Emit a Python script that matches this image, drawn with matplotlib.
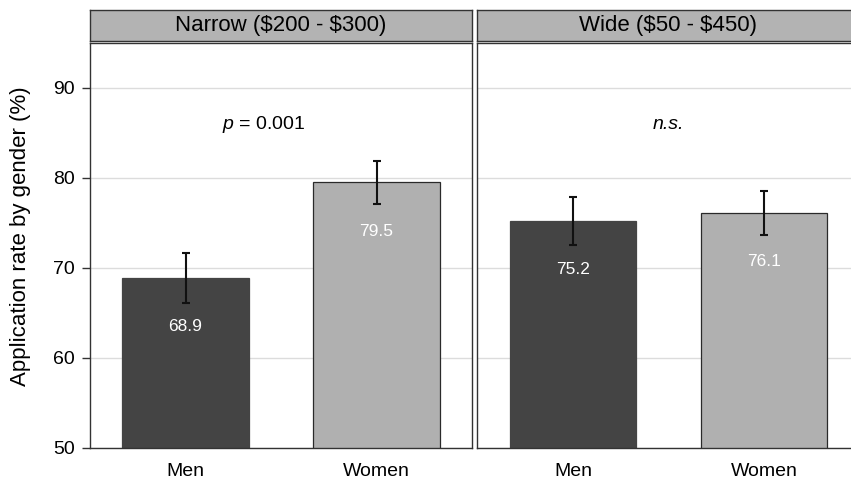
import matplotlib
matplotlib.use("Agg")
import matplotlib.pyplot as plt

plt.rcParams['font.family'] = ['Liberation Sans', 'DejaVu Sans']
plt.rcParams['mathtext.fontset'] = 'custom'
plt.rcParams['mathtext.rm'] = 'Liberation Sans'
plt.rcParams['mathtext.it'] = 'Liberation Sans:italic'

# Data
panels = ["Narrow (\\$200 - \\$300)", "Wide (\\$50 - \\$450)"]
genders = ["Men", "Women"]
rates = [[68.9, 79.5], [75.2, 76.1]]
errors = [[2.8, 2.4], [2.7, 2.45]]
annotations = ["$p$ = 0.001", "n.s."]
note_styles = ["normal", "italic"]
note_x = [1.41, 1.5]
yticks = [50, 60, 70, 80, 90]

bar_colors = ["#444444", "#b0b0b0"]
edge_colors = ["#444444", "#2a2a2a"]

W, H = 851, 483
fig = plt.figure(figsize=(W / 100, H / 100), dpi=100)

ax_w = 382 / W
ax_bottom = (H - 448) / H
ax_top = (H - 42.5) / H
lefts = [90 / W, 477.5 / W]

for i, (label, vals, errs, note) in enumerate(zip(panels, rates, errors, annotations)):
    ax = fig.add_axes([lefts[i], ax_bottom, ax_w, ax_top - ax_bottom])
    x = [1, 2]
    ax.bar(x, vals, width=0.66, bottom=0, color=bar_colors,
           edgecolor=edge_colors, linewidth=0.9, zorder=2)
    ax.errorbar(x, vals, yerr=errs, fmt='none', ecolor='#111111',
                elinewidth=1.5, capsize=2.6, capthick=1.5, zorder=3)
    for xi, v in zip(x, vals):
        ax.text(xi, v - 5.4, f"{v:.1f}", ha='center', va='center',
                color='white', fontsize=12.5, zorder=4)
    ax.text(note_x[i], 85.9, note, ha='center', va='center', fontsize=14,
            fontstyle=note_styles[i])
    ax.set_xlim(0.5, 2.5)
    ax.set_ylim(50, 95.05)
    ax.set_yticks(yticks)
    ax.grid(axis='y', color='#dcdcdc', linewidth=1.0, zorder=0)
    ax.set_axisbelow(True)
    ax.set_xticks(x)
    ax.set_xticklabels(genders, fontsize=14)
    ax.tick_params(axis='x', length=0, pad=11)
    for s in ax.spines.values():
        s.set_color('#333333')
        s.set_linewidth(1.0)
    if i == 0:
        ax.tick_params(axis='y', labelsize=14, length=6, width=1.0,
                       color='#333333', pad=5)
    else:
        ax.tick_params(axis='y', labelleft=False, length=0)

    # facet strip above each panel
    sx = fig.add_axes([lefts[i], (H - 40.5) / H, ax_w, 31 / H])
    sx.set_facecolor('#b3b3b3')
    sx.set_xticks([])
    sx.set_yticks([])
    for s in sx.spines.values():
        s.set_color('#333333')
        s.set_linewidth(1.0)
    sx.text(0.5, 0.5, label, ha='center', va='center', fontsize=16,
            transform=sx.transAxes)

fig.text(21 / W, (H - 236) / H, "Application rate by gender (%)",
         rotation=90, ha='center', va='center', fontsize=16)

fig.savefig("out.png", dpi=100, facecolor='white')
